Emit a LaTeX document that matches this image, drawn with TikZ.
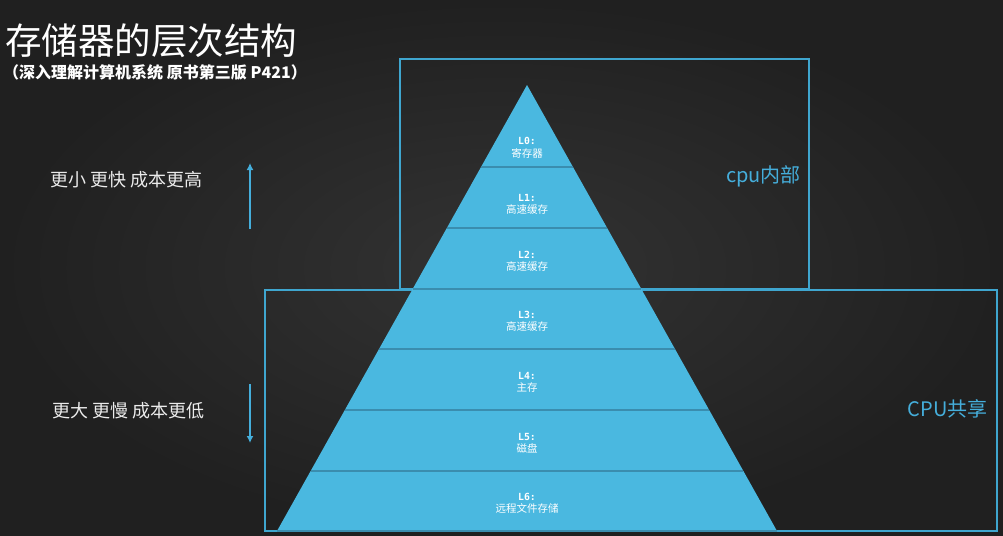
\documentclass[tikz,border=0pt]{standalone}
\usepackage{fontspec}
\usetikzlibrary{arrows.meta}
\newfontfamily\cjk{Noto Sans CJK SC}
\newfontfamily\monof{DejaVu Sans Mono}
\definecolor{bgin}{HTML}{333333}
\definecolor{bgout}{HTML}{202020}
\definecolor{pyr}{HTML}{4AB8E0}
\definecolor{sepc}{HTML}{3A8DAF}
\definecolor{boxc}{HTML}{3FA6CF}
\definecolor{txtblue}{HTML}{45AEDB}
\tikzset{
  lvl/.style={font=\monof\bfseries\fontsize{9.8}{11}\selectfont, text=white, anchor=base, inner sep=0pt},
  lvlname/.style={font=\cjk\fontsize{10.5}{12}\selectfont, text=white, anchor=base, inner sep=0pt},
  sidetext/.style={font=\cjk\fontsize{18}{20}\selectfont, text=white!92!black, anchor=base west, inner sep=0pt},
  bluetext/.style={font=\cjk\fontsize{20}{22}\selectfont, text=txtblue, anchor=base east, inner sep=0pt},
  frame/.style={draw=boxc, line width=1.1pt},
  band/.style={draw=sepc, line width=1.2pt},
  dirarrow/.style={draw=txtblue, line width=2pt, -{Latex[length=7pt,width=7pt]}}
}
\begin{document}
\begin{tikzpicture}[x=1pt,y=-1pt]
\useasboundingbox (0,0) rectangle (1003,535);
\shade[inner color=bgin, outer color=bgout] (0,0) rectangle (1003,535);
% frames
\draw[frame] (400,59) rectangle (809,289);
\draw[frame] (265,290) rectangle (997,531);
% pyramid
\coordinate (apex) at (527,85);
\coordinate (bl) at (277,531);
\coordinate (br) at (777,531);
\fill[pyr] (apex) -- (bl) -- (br) -- cycle;
\coordinate (s1l) at (481,167); \coordinate (s1r) at (573,167);
\coordinate (s2l) at (447,228); \coordinate (s2r) at (607,228);
\coordinate (s3l) at (413,289); \coordinate (s3r) at (641,289);
\coordinate (s4l) at (379,349); \coordinate (s4r) at (675,349);
\coordinate (s5l) at (345,410); \coordinate (s5r) at (709,410);
\coordinate (s6l) at (311,471); \coordinate (s6r) at (743,471);
\foreach \i in {1,...,6} \draw[band] (s\i l) -- (s\i r);
\draw[band] (bl) -- (br);
% level labels
\node[lvl] (l0a) at (527,144) {L0:};
\node[lvlname] (l0b) at (527,157) {寄存器};
\node[lvl] (l1a) at (527,201) {L1:};
\node[lvlname] (l1b) at (527,213) {高速缓存};
\node[lvl] (l2a) at (527,258) {L2:};
\node[lvlname] (l2b) at (527,270) {高速缓存};
\node[lvl] (l3a) at (527,318) {L3:};
\node[lvlname] (l3b) at (527,330) {高速缓存};
\node[lvl] (l4a) at (527,379) {L4:};
\node[lvlname] (l4b) at (527,391) {主存};
\node[lvl] (l5a) at (527,440) {L5:};
\node[lvlname] (l5b) at (527,452) {磁盘};
\node[lvl] (l6a) at (527,500) {L6:};
\node[lvlname] (l6b) at (527,512) {远程文件存储};
% titles
\node[anchor=base west, inner sep=0pt, text=white, font=\cjk\fontsize{36.5}{40}\selectfont] (title) at (5,55) {存储器的层次结构};
\node[anchor=base west, inner sep=0pt, text=white, font=\cjk\bfseries\fontsize{16}{18}\selectfont] (subtitle) at (3,78) {（深入理解计算机系统 原书第三版 P421）};
% side texts
\node[sidetext] (up) at (50,186) {更小 更快 成本更高};
\node[sidetext] (down) at (52,417) {更大 更慢 成本更低};
\node[bluetext] (cpuin) at (801,182) {cpu内部};
\node[bluetext] (cpush) at (988,416) {CPU共享};
% arrows
\coordinate (ua1) at (250,229); \coordinate (ua2) at (250,163);
\coordinate (da1) at (250,384); \coordinate (da2) at (250,443);
\draw[dirarrow] (ua1) -- (ua2);
\draw[dirarrow] (da1) -- (da2);
\end{tikzpicture}
\end{document}
